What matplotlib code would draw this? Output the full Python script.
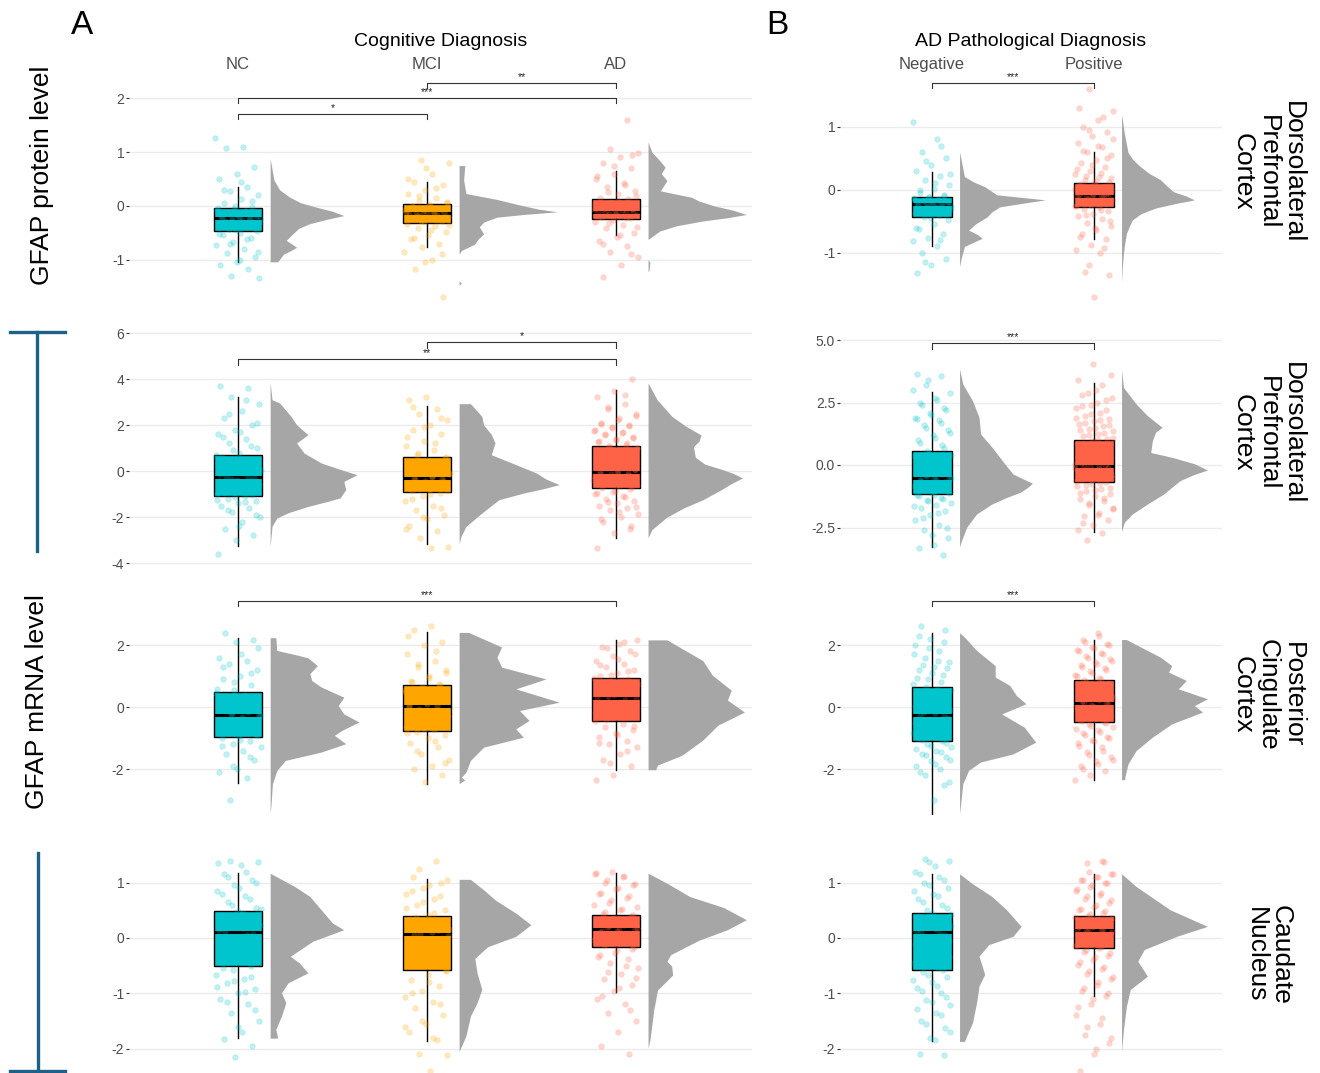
import numpy as np
import matplotlib
matplotlib.use("Agg")
import matplotlib.pyplot as plt
from matplotlib.lines import Line2D

plt.rcParams["font.family"] = ["Liberation Sans", "DejaVu Sans"]
plt.rcParams["axes.unicode_minus"] = False

COG_GROUPS = ["NC", "MCI", "AD"]
PATH_GROUPS = ["Negative", "Positive"]
COLORS = {"NC": "#00C5CD", "MCI": "#FFA500", "AD": "#FF6347",
          "Negative": "#00C5CD", "Positive": "#FF6347"}
DENS_COLOR = "#A6A6A6"

# ---------------- GFAP protein, DLPFC ----------------
PROT_COG_PTS = {
    "NC": [1.27, 1.1, 1.08, 0.72, 0.6, 0.5, 0.35, 0.28, 0.2, 0.12, 0.05, -0.02, -0.05, -0.08, -0.1, -0.12,
           -0.15, -0.17, -0.19, -0.21, -0.22, -0.24, -0.26, -0.28, -0.3, -0.33, -0.36, -0.4, -0.43, -0.46,
           -0.5, -0.55, -0.6, -0.67, -0.72, -0.8, -0.88, -0.95, -1.05, -1.1, -1.18, -1.3, -1.35,
           0.45, 0.3, 0.1, 0.0, -0.04, -0.09, -0.14, -0.18, -0.2, -0.23, -0.25, -0.29, -0.32, -0.35, -0.38,
           -0.41, -0.44, -0.52, -0.62, -0.7, -0.85, -1.0],
    "MCI": [0.86, 0.8, 0.6, 0.45, 0.38, 0.3, 0.22, 0.15, 0.1, 0.05, 0.02, 0.0, -0.03, -0.05, -0.08, -0.1,
            -0.12, -0.13, -0.14, -0.15, -0.17, -0.19, -0.21, -0.23, -0.25, -0.28, -0.3, -0.33, -0.37, -0.42,
            -0.48, -0.55, -0.62, -0.7, -0.76, -0.85, -1.0, -1.18, -1.69,
            0.7, 0.5, 0.33, 0.18, 0.08, 0.01, -0.02, -0.06, -0.09, -0.11, -0.16, -0.18, -0.2, -0.22, -0.24,
            -0.27, -0.29, -0.35, -0.45, -0.6, -0.9, -1.05],
    "AD": [1.6, 1.05, 0.98, 0.9, 0.8, 0.7, 0.6, 0.5, 0.42, 0.35, 0.28, 0.22, 0.15, 0.12, 0.08, 0.04, 0.0,
           -0.03, -0.06, -0.09, -0.11, -0.13, -0.15, -0.17, -0.19, -0.21, -0.23, -0.26, -0.3, -0.35, -0.42,
           -0.5, -0.58, -0.65, -0.75, -0.85, -0.95, -1.1, -1.33,
           0.95, 0.75, 0.55, 0.38, 0.25, 0.18, 0.1, 0.06, 0.02, -0.01, -0.05, -0.08, -0.12, -0.14, -0.16,
           -0.2, -0.22, -0.32, -0.4, -0.55, -0.7, -0.9],
}
PROT_COG_BOX = {"NC": (-1.04, -0.47, -0.22, -0.03, 0.36),
                "MCI": (-0.77, -0.31, -0.14, 0.03, 0.45),
                "AD": (-0.55, -0.24, -0.11, 0.125, 0.64)}
PROT_COG_DENS = {
    "NC": [(0.88, 0), (0.48, 0.02), (0.3, 0.05), (0.17, 0.10), (0.06, 0.16), (-0.02, 0.24), (-0.1, 0.33),
           (-0.18, 0.39), (-0.25, 0.30), (-0.33, 0.21), (-0.42, 0.15), (-0.52, 0.12), (-0.64, 0.085),
           (-0.72, 0.12), (-0.77, 0.14), (-0.83, 0.11), (-0.9, 0.07), (-1.04, 0.04), (-1.04, 0)],
    "MCI": [(0.75, 0), (0.75, 0.03), (0.48, 0.024), (0.23, 0.036), (0.12, 0.20), (0.06, 0.27), (0.01, 0.33),
            (-0.06, 0.42), (-0.11, 0.52), (-0.16, 0.34), (-0.21, 0.20), (-0.3, 0.13), (-0.39, 0.107),
            (-0.52, 0.13), (-0.62, 0.10), (-0.71, 0.083), (-0.83, 0.012), (-0.9, 0),
            (-1.40, 0), (-1.43, 0.012), (-1.48, 0)],
    "AD": [(1.19, 0), (1.0, 0.02), (0.85, 0.06), (0.72, 0.09), (0.6, 0.07), (0.47, 0.10), (0.28, 0.065),
           (0.16, 0.23), (0.09, 0.27), (0.0, 0.35), (-0.08, 0.45), (-0.16, 0.52), (-0.22, 0.42),
           (-0.28, 0.29), (-0.37, 0.15), (-0.47, 0.06), (-0.6, 0.01), (-0.62, 0), (-1.0, 0),
           (-1.05, 0.01), (-1.2, 0.005), (-1.22, 0)],
}
PROT_COG_SIG = [(1, 2, 1.70, "*"), (1, 3, 2.0, "***"), (2, 3, 2.29, "**")]

PROT_PATH_PTS = {
    "Negative": [1.07, 0.8, 0.6, 0.5, 0.4, 0.3, 0.22, 0.15, 0.08, 0.02, -0.05, -0.1, -0.12, -0.14, -0.16, -0.18,
                 -0.19, -0.2, -0.21, -0.22, -0.23, -0.25, -0.27, -0.29, -0.31, -0.34, -0.37, -0.4, -0.43, -0.48,
                 -0.55, -0.62, -0.7, -0.76, -0.82, -0.9, -1.0, -1.1, -1.2, -1.32,
                 0.7, 0.45, 0.25, 0.1, 0.0, -0.08, -0.11, -0.13, -0.15, -0.17, -0.2, -0.22, -0.24, -0.26, -0.28,
                 -0.3, -0.33, -0.36, -0.39, -0.45, -0.6, -0.8, -1.15],
    "Positive": [1.6, 1.25, 1.1, 1.0, 0.92, 0.85, 0.75, 0.68, 0.6, 0.55, 0.48, 0.42, 0.36, 0.3, 0.25, 0.2, 0.16,
                 0.12, 0.1, 0.07, 0.04, 0.02, 0.0, -0.02, -0.04, -0.06, -0.08, -0.1, -0.11, -0.13, -0.15, -0.17,
                 -0.19, -0.21, -0.23, -0.25, -0.27, -0.3, -0.34, -0.38, -0.42, -0.47, -0.52, -0.58, -0.64, -0.7,
                 -0.78, -0.88, -0.95, -1.0, -1.3, -1.35, -1.7,
                 1.3, 1.15, 0.95, 0.8, 0.7, 0.62, 0.5, 0.4, 0.33, 0.27, 0.22, 0.18, 0.14, 0.09, 0.06, 0.03, 0.01,
                 -0.01, -0.03, -0.05, -0.07, -0.09, -0.12, -0.14, -0.16, -0.18, -0.2, -0.22, -0.24, -0.26, -0.32,
                 -0.4, -0.5, -0.6, -0.75, -0.92, -1.2],
}
PROT_PATH_BOX = {"Negative": (-0.89, -0.43, -0.22, -0.11, 0.29),
                 "Positive": (-0.78, -0.27, -0.10, 0.10, 0.60)}
PROT_PATH_DENS = {
    "Negative": [(0.6, 0), (0.21, 0.03), (0.12, 0.09), (0.05, 0.155), (-0.08, 0.23), (-0.12, 0.38),
                 (-0.16, 0.53), (-0.21, 0.40), (-0.27, 0.25), (-0.35, 0.20), (-0.43, 0.17), (-0.54, 0.10),
                 (-0.64, 0.056), (-0.71, 0.11), (-0.77, 0.14), (-0.84, 0.08), (-0.9, 0.03), (-1.09, 0.01),
                 (-1.22, 0)],
    "Positive": [(1.2, 0), (0.9, 0.017), (0.59, 0.04), (0.48, 0.07), (0.37, 0.115), (0.26, 0.17),
                 (0.16, 0.24), (0.06, 0.28), (-0.03, 0.32), (-0.1, 0.40), (-0.16, 0.45), (-0.22, 0.33),
                 (-0.29, 0.21), (-0.38, 0.12), (-0.48, 0.066), (-0.69, 0.03), (-0.9, 0.017), (-1.06, 0.01),
                 (-1.22, 0.005), (-1.46, 0)],
}
PROT_PATH_SIG = [(1, 2, 1.70, "***")]

# ---------------- GFAP mRNA, DLPFC ----------------
DLPFC_COG_PTS = {
    "NC": [3.7, 3.6, 3.2, 2.9, 2.6, 2.3, 2.0, 1.8, 1.6, 1.4, 1.2, 1.0, 0.8, 0.6, 0.4, 0.2, 0.05, -0.1, -0.2,
           -0.3, -0.4, -0.45, -0.5, -0.6, -0.65, -0.7, -0.8, -0.85, -0.9, -1.0, -1.1, -1.2, -1.3, -1.4, -1.5,
           -1.6, -1.8, -2.0, -2.2, -2.5, -2.8, -3.0, -3.62,
           3.1, 2.5, 2.1, 1.7, 1.5, 1.1, 0.9, 0.7, 0.5, 0.3, 0.1, -0.05, -0.15, -0.25, -0.35, -0.55, -0.75,
           -0.95, -1.05, -1.15, -1.25, -1.35, -1.7, -1.9, -2.4],
    "MCI": [3.2, 3.1, 2.7, 2.5, 2.2, 2.0, 1.8, 1.6, 1.3, 1.1, 0.9, 0.7, 0.55, 0.4, 0.25, 0.1, -0.05, -0.15,
            -0.25, -0.3, -0.35, -0.42, -0.5, -0.58, -0.65, -0.72, -0.8, -0.88, -0.95, -1.1, -1.3, -1.5, -1.7,
            -1.9, -2.1, -2.4, -2.6, -2.9, -3.3, -3.35,
            2.8, 2.3, 1.9, 1.5, 1.2, 0.8, 0.6, 0.45, 0.3, 0.15, 0.0, -0.1, -0.2, -0.38, -0.45, -0.55, -0.62,
            -0.7, -0.78, -0.85, -1.0, -1.2, -1.6, -2.0, -2.5],
    "AD": [4.0, 3.5, 3.2, 2.9, 2.7, 2.5, 2.3, 2.1, 2.0, 1.9, 1.8, 1.7, 1.6, 1.5, 1.4, 1.3, 1.2, 1.1, 1.0, 0.9,
           0.8, 0.65, 0.5, 0.4, 0.3, 0.2, 0.1, 0.02, -0.04, -0.1, -0.15, -0.2, -0.25, -0.3, -0.35, -0.4, -0.45,
           -0.5, -0.55, -0.6, -0.67, -0.74, -0.8, -0.9, -1.0, -1.1, -1.2, -1.3, -1.4, -1.5, -1.6, -1.7, -1.85,
           -2.0, -2.2, -2.4, -2.7, -3.35,
           3.3, 2.8, 2.4, 2.2, 2.05, 1.95, 1.85, 1.75, 1.65, 1.55, 1.45, 1.35, 1.25, 1.15, 1.05, 0.95, 0.85,
           0.7, 0.55, 0.45, 0.35, 0.25, 0.15, 0.05, -0.07, -0.12, -0.18, -0.28, -0.38, -0.48, -0.58, -0.7,
           -0.85, -0.95, -1.15, -1.35, -1.55, -1.8, -2.1, -2.5],
}
DLPFC_COG_BOX = {"NC": (-3.28, -1.07, -0.28, 0.68, 3.2),
                 "MCI": (-3.16, -0.91, -0.32, 0.61, 2.84),
                 "AD": (-2.9, -0.74, -0.04, 1.10, 3.51)}
DLPFC_COG_DENS = {
    "NC": [(3.85, 0), (3.1, 0.01), (2.96, 0.05), (2.38, 0.11), (2.01, 0.14), (1.58, 0.20), (1.22, 0.14),
           (0.78, 0.18), (0.35, 0.27), (0.1, 0.36), (-0.16, 0.46), (-0.45, 0.39), (-0.81, 0.40), (-1.17, 0.37),
           (-1.35, 0.29), (-1.54, 0.20), (-1.8, 0.10), (-2.04, 0.036), (-2.4, 0.01), (-3.28, 0)],
    "MCI": [(2.93, 0), (2.93, 0.06), (2.38, 0.12), (2.0, 0.13), (1.6, 0.17), (1.22, 0.19), (0.71, 0.17),
            (0.28, 0.30), (-0.09, 0.41), (-0.35, 0.46), (-0.59, 0.53), (-0.78, 0.44), (-0.96, 0.34),
            (-1.25, 0.21), (-1.83, 0.12), (-2.41, 0.036), (-2.84, 0.01), (-3.16, 0)],
    "AD": [(3.83, 0), (3.1, 0.048), (2.37, 0.127), (1.95, 0.20), (1.57, 0.28), (1.3, 0.27), (1.06, 0.24),
           (0.6, 0.25), (0.3, 0.30), (0.1, 0.38), (-0.1, 0.45), (-0.3, 0.50), (-0.55, 0.44), (-0.8, 0.39),
           (-1.25, 0.29), (-1.6, 0.19), (-2.0, 0.10), (-2.55, 0.02), (-2.9, 0)],
}
DLPFC_COG_SIG = [(2, 3, 5.59, "*"), (1, 3, 4.87, "**")]

DLPFC_PATH_PTS = {
    "Negative": [3.65, 3.55, 3.2, 2.9, 2.7, 2.5, 2.3, 2.1, 1.9, 1.8, 1.6, 1.4, 1.2, 1.0, 0.8, 0.57, 0.4, 0.25,
                 0.1, 0.0, -0.1, -0.2, -0.3, -0.4, -0.5, -0.55, -0.6, -0.68, -0.75, -0.82, -0.9, -0.98, -1.05,
                 -1.12, -1.2, -1.3, -1.4, -1.5, -1.6, -1.7, -1.85, -2.0, -2.2, -2.4, -2.6, -2.9, -3.2, -3.3,
                 -3.6,
                 3.4, 3.0, 2.6, 2.4, 2.2, 2.0, 1.85, 1.7, 1.5, 1.3, 1.1, 0.9, 0.7, 0.5, 0.35, 0.2, 0.05, -0.05,
                 -0.15, -0.25, -0.35, -0.45, -0.52, -0.58, -0.65, -0.72, -0.8, -0.88, -0.95, -1.02, -1.1, -1.18,
                 -1.25, -1.35, -1.45, -1.65, -1.9, -2.1, -2.5, -2.8],
    "Positive": [4.05, 3.4, 3.2, 2.9, 2.7, 2.5, 2.35, 2.2, 2.05, 1.9, 1.8, 1.7, 1.6, 1.5, 1.4, 1.3, 1.2, 1.1,
                 1.0, 0.9, 0.8, 0.7, 0.6, 0.5, 0.4, 0.3, 0.2, 0.1, 0.02, -0.05, -0.1, -0.15, -0.2, -0.25, -0.3,
                 -0.35, -0.4, -0.45, -0.5, -0.55, -0.6, -0.68, -0.75, -0.85, -0.95, -1.05, -1.15, -1.25, -1.35,
                 -1.45, -1.6, -1.75, -1.9, -2.05, -2.2, -2.4, -2.6, -2.7, -3.0,
                 3.6, 3.0, 2.8, 2.6, 2.4, 2.3, 2.1, 1.95, 1.85, 1.75, 1.65, 1.55, 1.45, 1.35, 1.25, 1.15, 1.05,
                 0.95, 0.85, 0.75, 0.65, 0.55, 0.45, 0.35, 0.25, 0.15, 0.05, -0.02, -0.08, -0.12, -0.18, -0.22,
                 -0.28, -0.32, -0.38, -0.42, -0.48, -0.52, -0.58, -0.64, -0.72, -0.8, -0.9, -1.0, -1.1, -1.3,
                 -1.5, -1.7, -2.0, -2.3],
}
DLPFC_PATH_BOX = {"Negative": (-3.27, -1.16, -0.51, 0.57, 2.93),
                  "Positive": (-2.67, -0.68, -0.05, 1.0, 3.27)}
DLPFC_PATH_DENS = {
    "Negative": [(3.84, 0), (3.24, 0.02), (2.57, 0.08), (1.91, 0.12), (1.24, 0.13), (0.71, 0.20), (0.04, 0.28),
                 (-0.36, 0.33), (-0.55, 0.39), (-0.73, 0.45), (-0.9, 0.42), (-1.09, 0.375), (-1.3, 0.29),
                 (-1.56, 0.20), (-1.96, 0.105), (-2.49, 0.044), (-3.03, 0.012), (-3.27, 0)],
    "Positive": [(3.8, 0), (3.1, 0.012), (2.44, 0.09), (1.97, 0.16), (1.51, 0.25), (1.31, 0.21), (0.97, 0.19),
                 (0.5, 0.18), (0.31, 0.31), (0.05, 0.45), (-0.2, 0.53), (-0.4, 0.44), (-0.63, 0.36),
                 (-1.16, 0.26), (-1.56, 0.16), (-1.96, 0.066), (-2.29, 0.017), (-2.67, 0)],
}
DLPFC_PATH_SIG = [(1, 2, 4.88, "***")]

# ---------------- GFAP mRNA, posterior cingulate ----------------
PCC_COG_PTS = {
    "NC": [2.4, 2.15, 2.1, 1.6, 1.5, 1.4, 1.2, 1.0, 0.9, 0.7, 0.55, 0.45, 0.35, 0.25, 0.15, 0.05, -0.05, -0.15,
           -0.22, -0.27, -0.33, -0.4, -0.48, -0.55, -0.62, -0.7, -0.78, -0.86, -0.94, -1.0, -1.1, -1.2, -1.3,
           -1.4, -1.5, -1.7, -2.0, -2.1, -2.3, -3.0,
           1.9, 1.7, 1.3, 1.1, 0.8, 0.6, 0.4, 0.3, 0.2, 0.1, 0.0, -0.1, -0.18, -0.3, -0.37, -0.44, -0.52, -0.6,
           -0.66, -0.74, -0.82, -0.9, -1.05, -1.25, -1.6, -1.9],
    "MCI": [2.62, 2.5, 2.1, 2.0, 1.7, 1.5, 1.3, 1.2, 1.0, 0.85, 0.75, 0.65, 0.55, 0.45, 0.35, 0.25, 0.15, 0.08,
            0.03, -0.05, -0.15, -0.25, -0.35, -0.45, -0.55, -0.65, -0.75, -0.8, -0.9, -1.0, -1.15, -1.3, -1.5,
            -1.7, -1.9, -2.0, -2.2, -2.4,
            2.3, 1.8, 1.4, 1.1, 0.95, 0.8, 0.7, 0.6, 0.5, 0.4, 0.3, 0.2, 0.1, 0.0, -0.1, -0.2, -0.3, -0.4,
            -0.5, -0.6, -0.7, -0.85, -1.1, -1.4, -1.8],
    "AD": [2.15, 2.05, 1.95, 1.8, 1.65, 1.5, 1.4, 1.3, 1.2, 1.1, 1.0, 0.92, 0.85, 0.75, 0.65, 0.55, 0.45, 0.38,
           0.3, 0.22, 0.15, 0.05, -0.05, -0.15, -0.25, -0.35, -0.45, -0.55, -0.65, -0.75, -0.85, -0.95, -1.1,
           -1.2, -1.3, -1.5, -1.7, -1.9, -2.2, -2.35,
           2.1, 1.9, 1.7, 1.55, 1.35, 1.15, 1.05, 0.95, 0.88, 0.8, 0.7, 0.6, 0.5, 0.42, 0.35, 0.26, 0.18, 0.1,
           0.0, -0.1, -0.2, -0.3, -0.4, -0.6, -0.9, -1.15, -1.4, -1.8],
}
PCC_COG_BOX = {"NC": (-2.45, -0.97, -0.27, 0.48, 2.24),
               "MCI": (-2.47, -0.78, 0.05, 0.73, 2.41),
               "AD": (-2.02, -0.45, 0.30, 0.95, 2.17)}
PCC_COG_DENS = {
    "NC": [(2.24, 0), (2.24, 0.03), (1.83, 0.035), (1.67, 0.15), (1.59, 0.20), (1.34, 0.25), (1.08, 0.21),
           (0.86, 0.22), (0.65, 0.27), (0.32, 0.39), (0.05, 0.36), (-0.22, 0.39), (-0.48, 0.47), (-0.75, 0.38),
           (-0.91, 0.34), (-1.18, 0.40), (-1.45, 0.27), (-1.72, 0.08), (-2.04, 0.036), (-2.47, 0.012),
           (-3.12, 0.005), (-3.44, 0)],
    "MCI": [(2.41, 0), (2.41, 0.05), (1.94, 0.225), (1.61, 0.20), (1.29, 0.225), (0.91, 0.46), (0.59, 0.30),
            (0.16, 0.53), (-0.11, 0.32), (-0.43, 0.37), (-0.7, 0.30), (-0.97, 0.34), (-1.29, 0.13),
            (-1.72, 0.06), (-2.1, 0.036), (-2.26, 0.012), (-2.35, 0.03), (-2.47, 0)],
    "AD": [(2.17, 0), (2.17, 0.10), (1.5, 0.29), (1.03, 0.34), (0.55, 0.44), (0.23, 0.42), (-0.16, 0.51),
           (-0.58, 0.37), (-1.06, 0.29), (-1.55, 0.18), (-1.87, 0.05), (-2.02, 0.04), (-2.02, 0)],
}
PCC_COG_SIG = [(1, 3, 3.41, "***")]

PCC_PATH_PTS = {
    "Negative": [2.62, 2.5, 2.2, 2.0, 1.8, 1.6, 1.45, 1.3, 1.2, 1.05, 0.9, 0.75, 0.6, 0.5, 0.4, 0.3, 0.2, 0.1,
                 0.0, -0.1, -0.2, -0.25, -0.3, -0.4, -0.5, -0.6, -0.7, -0.8, -0.9, -1.0, -1.1, -1.2, -1.3, -1.4,
                 -1.5, -1.6, -1.75, -1.9, -2.0, -2.2, -2.4, -3.0,
                 2.3, 2.1, 1.9, 1.7, 1.5, 1.35, 1.25, 1.1, 0.95, 0.8, 0.65, 0.55, 0.45, 0.35, 0.25, 0.15, 0.05,
                 -0.05, -0.15, -0.35, -0.45, -0.55, -0.65, -0.75, -0.85, -0.95, -1.05, -1.15, -1.25, -1.35,
                 -1.45, -1.55, -1.7, -1.85, -2.1, -2.5],
    "Positive": [2.4, 2.15, 2.05, 1.95, 1.85, 1.75, 1.65, 1.55, 1.45, 1.35, 1.25, 1.15, 1.05, 0.95, 0.86, 0.78,
                 0.7, 0.6, 0.5, 0.42, 0.35, 0.28, 0.2, 0.14, 0.08, 0.0, -0.08, -0.16, -0.24, -0.32, -0.4, -0.48,
                 -0.56, -0.65, -0.75, -0.85, -0.95, -1.05, -1.15, -1.3, -1.45, -1.6, -1.75, -1.9, -2.05, -2.2,
                 -2.34,
                 2.3, 2.1, 2.0, 1.9, 1.8, 1.7, 1.6, 1.5, 1.4, 1.3, 1.2, 1.1, 1.0, 0.9, 0.82, 0.74, 0.65, 0.55,
                 0.46, 0.38, 0.31, 0.24, 0.17, 0.11, 0.04, -0.04, -0.12, -0.2, -0.28, -0.36, -0.44, -0.52, -0.6,
                 -0.7, -0.8, -0.9, -1.0, -1.1, -1.25, -1.4, -1.55, -1.7, -1.85, -2.0],
}
PCC_PATH_BOX = {"Negative": (-3.44, -1.08, -0.25, 0.65, 2.4),
                "Positive": (-2.34, -0.48, 0.14, 0.86, 2.18)}
PCC_PATH_DENS = {
    "Negative": [(2.4, 0), (2.26, 0.03), (1.83, 0.105), (1.34, 0.22), (0.97, 0.22), (0.7, 0.31), (0.38, 0.35),
                 (0.11, 0.41), (-0.22, 0.26), (-0.65, 0.40), (-1.13, 0.47), (-1.51, 0.33), (-1.77, 0.13),
                 (-2.04, 0.056), (-2.47, 0.02), (-3.12, 0.007), (-3.44, 0)],
    "Positive": [(2.18, 0), (2.18, 0.03), (1.88, 0.14), (1.61, 0.24), (1.34, 0.31), (1.13, 0.29), (0.86, 0.40),
                 (0.59, 0.35), (0.27, 0.53), (0.05, 0.45), (-0.16, 0.50), (-0.54, 0.31), (-0.97, 0.19),
                 (-1.4, 0.09), (-1.83, 0.04), (-2.26, 0.02), (-2.34, 0.02), (-2.34, 0)],
}
PCC_PATH_SIG = [(1, 2, 3.41, "***")]

# ---------------- GFAP mRNA, caudate nucleus ----------------
CN_COG_PTS = {
    "NC": [1.4, 1.38, 1.32, 1.15, 1.05, 0.95, 0.85, 0.75, 0.65, 0.55, 0.48, 0.42, 0.36, 0.3, 0.24, 0.18, 0.12,
           0.08, 0.02, -0.05, -0.12, -0.2, -0.28, -0.36, -0.44, -0.5, -0.58, -0.66, -0.74, -0.82, -0.92, -1.0,
           -1.1, -1.2, -1.35, -1.5, -1.7, -1.82, -1.95, -2.15,
           1.35, 1.2, 1.1, 1.0, 0.9, 0.8, 0.7, 0.6, 0.52, 0.45, 0.38, 0.27, 0.2, 0.14, 0.05, -0.1, -0.25,
           -0.4, -0.55, -0.7, -0.78, -0.88, -0.98, -1.15, -1.3, -1.6],
    "MCI": [1.4, 1.25, 1.05, 0.95, 0.85, 0.75, 0.65, 0.55, 0.45, 0.38, 0.32, 0.26, 0.2, 0.14, 0.08, 0.04, -0.02,
            -0.1, -0.18, -0.26, -0.34, -0.42, -0.5, -0.58, -0.66, -0.76, -0.86, -0.96, -1.06, -1.16, -1.26,
            -1.4, -1.55, -1.7, -1.85, -2.1, -2.12, -2.4,
            1.1, 1.0, 0.9, 0.8, 0.7, 0.6, 0.5, 0.42, 0.35, 0.28, 0.22, 0.16, 0.1, 0.06, 0.0, -0.06, -0.14,
            -0.3, -0.45, -0.6, -0.8, -1.0, -1.2, -1.5, -1.6, -1.8],
    "AD": [1.17, 1.12, 1.05, 0.98, 0.9, 0.82, 0.75, 0.68, 0.6, 0.53, 0.47, 0.41, 0.36, 0.31, 0.26, 0.22, 0.18,
           0.15, 0.12, 0.08, 0.04, 0.0, -0.05, -0.1, -0.16, -0.22, -0.3, -0.38, -0.46, -0.55, -0.65, -0.75,
           -0.85, -0.95, -1.1, -1.2, -1.35, -1.5, -1.7, -1.95, -2.1,
           1.2, 1.15, 1.1, 1.0, 0.95, 0.88, 0.8, 0.72, 0.64, 0.56, 0.5, 0.44, 0.39, 0.34, 0.29, 0.24, 0.2,
           0.16, 0.13, 0.1, 0.06, 0.02, -0.03, -0.08, -0.13, -0.2, -0.27, -0.35, -0.5, -0.62, -0.72, -0.9,
           -1.05, -1.3],
}
CN_COG_BOX = {"NC": (-1.81, -0.51, 0.11, 0.49, 1.17),
              "MCI": (-1.87, -0.58, 0.07, 0.39, 1.06),
              "AD": (-0.97, -0.16, 0.17, 0.41, 1.17)}
CN_COG_DENS = {
    "NC": [(1.17, 0), (0.93, 0.13), (0.75, 0.21), (0.51, 0.27), (0.27, 0.33), (0.15, 0.39), (-0.06, 0.225),
           (-0.33, 0.107), (-0.45, 0.154), (-0.63, 0.20), (-0.81, 0.095), (-0.99, 0.06), (-1.17, 0.083),
           (-1.41, 0.06), (-1.65, 0.03), (-1.81, 0.04), (-1.81, 0)],
    "MCI": [(1.06, 0), (1.06, 0.06), (0.87, 0.13), (0.69, 0.19), (0.45, 0.30), (0.24, 0.38), (0.03, 0.30),
            (-0.16, 0.15), (-0.37, 0.083), (-0.63, 0.095), (-0.93, 0.12), (-1.17, 0.095), (-1.41, 0.06),
            (-1.77, 0.036), (-2.05, 0)],
    "AD": [(1.17, 0), (0.99, 0.10), (0.75, 0.22), (0.55, 0.40), (0.33, 0.52), (0.15, 0.42), (-0.04, 0.27),
           (-0.3, 0.12), (-0.42, 0.10), (-0.51, 0.125), (-0.67, 0.13), (-0.94, 0.05), (-1.3, 0.03),
           (-1.84, 0.01), (-1.99, 0)],
}
CN_COG_SIG = []

CN_PATH_PTS = {
    "Negative": [1.42, 1.4, 1.3, 1.15, 1.05, 0.95, 0.85, 0.75, 0.65, 0.55, 0.46, 0.4, 0.34, 0.28, 0.22, 0.16,
                 0.1, 0.05, -0.02, -0.1, -0.18, -0.26, -0.34, -0.42, -0.5, -0.58, -0.66, -0.76, -0.86, -0.96,
                 -1.06, -1.16, -1.28, -1.4, -1.55, -1.7, -1.85, -2.1, -2.12,
                 1.38, 1.2, 1.1, 1.0, 0.9, 0.8, 0.7, 0.6, 0.5, 0.43, 0.37, 0.31, 0.25, 0.19, 0.13, 0.07, 0.02,
                 -0.06, -0.14, -0.22, -0.3, -0.38, -0.46, -0.54, -0.62, -0.7, -0.8, -0.9, -1.0, -1.12, -1.22,
                 -1.35, -1.5, -1.62, -1.8],
    "Positive": [1.4, 1.35, 1.15, 1.1, 1.05, 1.0, 0.92, 0.85, 0.78, 0.7, 0.63, 0.56, 0.5, 0.45, 0.4, 0.36, 0.32,
                 0.28, 0.24, 0.2, 0.17, 0.15, 0.12, 0.08, 0.04, 0.0, -0.05, -0.1, -0.15, -0.19, -0.25, -0.32,
                 -0.4, -0.48, -0.56, -0.65, -0.75, -0.85, -0.95, -1.05, -1.2, -1.4, -1.55, -1.75, -1.9, -2.1,
                 -2.4,
                 1.38, 1.2, 1.15, 1.1, 1.05, 1.0, 0.95, 0.88, 0.82, 0.75, 0.68, 0.6, 0.53, 0.48, 0.43, 0.38, 0.34,
                 0.3, 0.26, 0.22, 0.19, 0.16, 0.13, 0.1, 0.06, 0.02, -0.02, -0.07, -0.12, -0.17, -0.22, -0.28,
                 -0.35, -0.44, -0.52, -0.6, -0.7, -0.8, -0.9, -1.0, -1.1, -1.25, -1.45, -1.6, -1.8, -2.0],
}
CN_PATH_BOX = {"Negative": (-1.87, -0.58, 0.10, 0.46, 1.16),
               "Positive": (-1.05, -0.19, 0.15, 0.40, 1.16)}
CN_PATH_DENS = {
    "Negative": [(1.16, 0), (0.98, 0.08), (0.75, 0.20), (0.51, 0.29), (0.21, 0.38), (0.03, 0.33), (-0.12, 0.18),
                 (-0.33, 0.12), (-0.51, 0.14), (-0.66, 0.155), (-0.87, 0.12), (-1.17, 0.105), (-1.53, 0.08),
                 (-1.77, 0.044), (-1.87, 0.03), (-1.87, 0)],
    "Positive": [(1.16, 0), (0.93, 0.09), (0.69, 0.21), (0.51, 0.30), (0.21, 0.53), (0.03, 0.34), (-0.21, 0.14),
                 (-0.42, 0.10), (-0.69, 0.16), (-0.93, 0.054), (-1.23, 0.03), (-1.65, 0.012), (-2.05, 0)],
}
CN_PATH_SIG = []

ROW_LABELS = ["Dorsolateral\nPrefrontal\nCortex", "Dorsolateral\nPrefrontal\nCortex",
              "Posterior\nCingulate\nCortex", "Caudate\nNucleus"]

# ---------------- layout ----------------
W, H = 1320, 1073
ROWS_PX = [(72, 300), (322, 572), (585, 815), (850, 1073)]
COL_A_PX = (129, 752)
COL_B_PX = (840, 1222)
XLIM_A = (0.423, 3.72)
XLIM_B = (0.432, 2.79)

PANELS = [
    # row, col, pts, box, dens, sig, ylim, ticks, ticklabels
    (0, "A", PROT_COG_PTS, PROT_COG_BOX, PROT_COG_DENS, PROT_COG_SIG, (-1.75, 2.49), [-1, 0, 1, 2], None),
    (0, "B", PROT_PATH_PTS, PROT_PATH_BOX, PROT_PATH_DENS, PROT_PATH_SIG, (-1.75, 1.87), [-1, 0, 1], None),
    (1, "A", DLPFC_COG_PTS, DLPFC_COG_BOX, DLPFC_COG_DENS, DLPFC_COG_SIG, (-4.39, 6.48), [-4, -2, 0, 2, 4, 6], None),
    (1, "B", DLPFC_PATH_PTS, DLPFC_PATH_BOX, DLPFC_PATH_DENS, DLPFC_PATH_SIG, (-4.28, 5.72), [-2.5, 0, 2.5, 5],
     ["-2.5", "0.0", "2.5", "5.0"]),
    (2, "A", PCC_COG_PTS, PCC_COG_BOX, PCC_COG_DENS, PCC_COG_SIG, (-3.48, 3.94), [-2, 0, 2], None),
    (2, "B", PCC_PATH_PTS, PCC_PATH_BOX, PCC_PATH_DENS, PCC_PATH_SIG, (-3.48, 3.94), [-2, 0, 2], None),
    (3, "A", CN_COG_PTS, CN_COG_BOX, CN_COG_DENS, CN_COG_SIG, (-2.44, 1.59), [-2, -1, 0, 1], None),
    (3, "B", CN_PATH_PTS, CN_PATH_BOX, CN_PATH_DENS, CN_PATH_SIG, (-2.44, 1.59), [-2, -1, 0, 1], None),
]

BOX_W = 0.25
DENS_OFF = 0.17
JIT = 0.24

fig = plt.figure(figsize=(W / 100, H / 100), dpi=100)


def px_axes(xpx, ypx):
    x0, x1 = xpx
    y0, y1 = ypx
    return fig.add_axes([x0 / W, 1 - y1 / H, (x1 - x0) / W, (y1 - y0) / H])


for row, col, pts, box, dens, sig, ylim, ticks, tlabels in PANELS:
    groups = COG_GROUPS if col == "A" else PATH_GROUPS
    ax = px_axes(COL_A_PX if col == "A" else COL_B_PX, ROWS_PX[row])

    for gi, g in enumerate(groups):
        pos = gi + 1
        # half-density
        dy = [p[0] for p in dens[g]]
        dw = [p[1] for p in dens[g]]
        base = pos + DENS_OFF
        ax.fill_betweenx(dy, base, [base + w for w in dw], color=DENS_COLOR, lw=0, zorder=1)
        # box
        wl, q1, med, q3, wh = box[g]
        ax.bxp([dict(whislo=wl, q1=q1, med=med, q3=q3, whishi=wh, fliers=[])], positions=[pos],
               widths=BOX_W, showcaps=False, showfliers=False, patch_artist=True, manage_ticks=False,
               boxprops=dict(facecolor=COLORS[g], edgecolor="black", lw=1.0),
               whiskerprops=dict(color="black", lw=1.0),
               medianprops=dict(color="black", lw=2.2), zorder=2)
        # jittered points
        vals = np.array(pts[g])
        k = np.arange(len(vals))
        jit = ((k * 0.618034 + 0.37 * gi + 0.11 * row) % 1.0 - 0.5) * JIT
        ax.scatter(pos + jit, vals, s=16, color=COLORS[g], alpha=0.25, lw=0.4, zorder=3)

    ax.set_xlim(*(XLIM_A if col == "A" else XLIM_B))
    ax.set_ylim(*ylim)
    for s in ax.spines.values():
        s.set_visible(False)
    ax.set_xticks([])
    ax.set_yticks(ticks)
    if tlabels:
        ax.set_yticklabels(tlabels)
    ax.tick_params(axis="y", length=2.5, width=0.8, color="#333333", labelcolor="#4D4D4D",
                   labelsize=10, pad=1)
    ax.yaxis.grid(True, color="#EBEBEB", lw=1.0)
    ax.set_axisbelow(True)
    ax.patch.set_alpha(0)

    # significance brackets
    yr = ylim[1] - ylim[0]
    tip = 0.022 * yr
    for g1, g2, yb, lab in sig:
        ax.plot([g1, g1, g2, g2], [yb - tip, yb, yb, yb - tip], color="#333333", lw=0.8, zorder=4,
                clip_on=False)
        ax.text((g1 + g2) / 2, yb + 0.004 * yr, lab, ha="center", va="bottom", fontsize=7.5, color="#222222")

    if row == 0:
        for gi, g in enumerate(groups):
            ax.text(gi + 1, 1.0, g, transform=ax.get_xaxis_transform(), ha="center", va="bottom",
                    fontsize=12, color="#4D4D4D")

# column headers and panel letters
fig.text(((COL_A_PX[0] + COL_A_PX[1]) / 2) / W, 1 - 42 / H, "Cognitive Diagnosis", ha="center", va="center",
         fontsize=14)
fig.text(((COL_B_PX[0] + COL_B_PX[1]) / 2) / W, 1 - 42 / H, "AD Pathological Diagnosis", ha="center",
         va="center", fontsize=14)
fig.text(71 / W, 1 - 25 / H, "A", ha="left", va="center", fontsize=24)
fig.text(766 / W, 1 - 25 / H, "B", ha="left", va="center", fontsize=24)

# right strip labels
for lab, yc in zip(ROW_LABELS, [172, 433, 695, 955]):
    fig.text(1268 / W, 1 - yc / H, lab, rotation=-90, ha="center", va="center", fontsize=19,
             multialignment="center", linespacing=1.05)

# left labels
fig.text(42 / W, 1 - 175 / H, "GFAP protein level", rotation=90, ha="center", va="center", fontsize=19)
fig.text(37 / W, 1 - 702 / H, "GFAP mRNA level", rotation=90, ha="center", va="center", fontsize=19)
BRACKET = "#1D6189"
for xs, ys in [([37, 37], [332, 551]), ([10, 65], [332, 332]), ([38, 38], [853, 1073]), ([10, 65], [1071, 1071])]:
    fig.add_artist(Line2D([x / W for x in xs], [1 - y / H for y in ys], color=BRACKET, lw=2.4,
                          transform=fig.transFigure))

fig.savefig("out.png", dpi=100, facecolor="white")
